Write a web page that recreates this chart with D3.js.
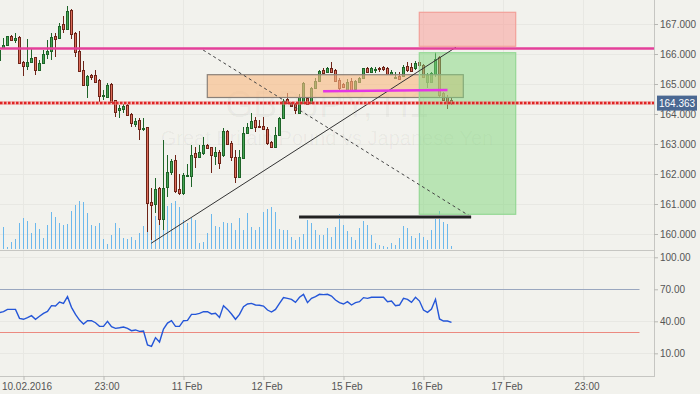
<!DOCTYPE html>
<html>
<head>
<meta charset="utf-8">
<script src="https://cdn.jsdelivr.net/npm/d3@7"></script>
<style>
  body { margin: 0; background: #f2f2ed; }
  svg { display: block; font-family: "Liberation Sans", Arial, sans-serif; }
</style>
</head>
<body>
<svg id="chart" width="700" height="394"></svg>
<script>
// GBPJPY H1 candles, first entry is the half-cut bar at the left edge
const open = [165.8,166.21,166.29,166.59,166.477,166.557,165.723,165.6,165.723,165.89,165.477,165.69,165.99,166.1,166.6,166.523,167.0,166.823,167.467,166.69,166.1,165.467,164.957,165.3,165.3,165.133,164.6,164.557,164.99,164.467,164.133,164.157,164.3,163.99,163.667,163.8,163.49,163.557,161.077,161.0,161.533,160.49,161.557,162.077,162.467,161.49,161.357,161.933,161.943,162.69,162.577,162.69,162.967,162.91,162.61,162.743,162.633,163.443,163.023,162.577,161.91,162.543,163.357,163.543,163.79,163.6,163.59,163.49,163.067,162.91,163.29,163.857,164.49,164.357,164.323,164.023,164.357,164.543,164.357,164.857,165.1,165.467,165.41,165.523,165.467,165.133,164.99,164.8,165.1,164.823,165.057,165.19,165.523,165.41,165.477,165.543,165.567,165.543,165.323,165.21,165.277,165.277,165.61,165.577,165.523,165.743,165.633,165.077,165.077,165.333,165.89,164.69,164.557,164.467];
const high = [166.2,166.533,166.6,166.633,166.7,166.6,165.767,166.5,166.167,165.91,165.8,166.133,166.467,166.69,166.69,167.023,167.267,167.6,167.49,166.733,166.757,165.767,165.3,165.343,165.467,165.157,164.8,165.033,165.023,164.467,164.3,164.333,164.317,164.023,163.857,163.857,163.857,163.577,161.533,161.867,161.577,163.133,162.633,162.5,162.633,161.99,162.023,162.333,162.967,162.91,162.967,163.243,163.0,162.91,162.91,162.8,163.523,163.467,163.11,162.8,162.8,163.577,163.71,164.023,163.91,163.8,163.91,163.577,163.11,163.577,163.89,164.49,164.69,164.41,164.357,164.657,165.057,164.577,164.9,165.19,165.467,165.523,165.577,165.743,165.5,165.19,165.023,165.167,165.19,165.123,165.243,165.543,165.577,165.577,165.577,165.577,165.6,165.577,165.467,165.39,165.41,165.633,165.723,165.69,165.767,165.8,165.657,165.357,165.41,166.077,165.933,164.723,164.633,164.523];
const low = [165.733,166.167,166.283,166.457,166.367,165.667,165.277,165.467,165.7,165.31,165.467,165.667,165.833,165.8,165.91,166.5,166.69,166.8,166.49,165.89,165.41,164.933,164.523,165.133,165.067,164.41,164.467,164.523,164.367,163.91,163.857,164.023,163.933,163.577,163.577,163.133,163.433,160.077,159.8,160.7,160.3,160.133,161.243,161.967,161.357,161.3,161.3,161.91,161.577,162.19,162.523,162.633,162.823,162.023,162.3,162.157,162.577,162.967,162.433,161.69,161.89,162.523,163.333,163.523,163.41,163.523,163.467,162.967,162.89,162.857,163.277,163.833,164.333,164.243,163.99,163.99,164.333,164.323,164.333,164.833,165.077,165.323,165.39,165.357,165.057,164.767,164.857,164.777,164.767,164.8,165.023,165.167,165.367,165.377,165.357,165.41,165.443,165.3,165.3,165.19,165.167,165.243,165.41,165.41,165.467,165.577,165.19,164.857,165.023,165.243,164.577,164.443,164.157,164.3];
const close = [166.133,166.3,166.59,166.477,166.523,165.69,165.6,165.723,165.857,165.477,165.69,166.0,166.1,166.557,166.51,166.933,166.823,167.433,166.657,166.057,165.423,164.957,165.267,165.243,165.077,164.61,164.633,164.967,164.41,164.077,164.19,164.267,163.967,163.69,163.767,163.49,163.523,161.023,160.967,161.49,160.49,161.533,162.077,162.433,161.443,161.377,161.967,161.967,162.633,162.577,162.743,162.967,162.857,162.633,162.723,162.357,163.433,162.99,162.557,161.91,162.557,163.357,163.557,163.777,163.557,163.557,163.49,163.023,162.91,163.29,163.857,164.443,164.357,164.283,164.133,164.577,165.023,164.343,164.857,165.1,165.433,165.357,165.523,165.39,165.1,164.857,164.91,165.077,164.8,165.1,165.19,165.523,165.39,165.523,165.5,165.5,165.5,165.323,165.41,165.243,165.167,165.577,165.467,165.433,165.69,165.633,165.243,165.3,165.357,165.823,164.633,164.467,164.443,164.363];
const volume = [200,220,23,70,103,260,310,283,163,260,203,113,240,373,320,260,240,250,383,440,483,470,363,240,230,260,103,53,140,257,207,107,97,117,90,157,230,290,90,330,407,440,430,457,480,417,290,263,307,290,63,73,163,350,230,223,273,263,257,190,307,190,357,223,190,223,373,400,417,370,197,190,190,123,90,120,147,290,263,190,140,140,207,123,223,347,240,180,123,90,207,280,240,140,57,40,30,20,63,40,107,230,207,130,107,163,123,90,190,307,380,273,250,30];
const rsi = [48.1,49.0,51.2,51.2,51.2,42.8,41.9,43.4,45.3,41.9,44.7,47.5,49.3,54.7,54.3,58.1,56.8,63.1,53.1,46.5,41.2,37.5,40.6,40.6,38.7,35.3,35.3,40.0,35.0,33.4,34.0,34.7,33.4,31.2,31.9,30.6,30.9,17.8,16.5,24.7,20.6,32.8,38.4,40.6,35.3,35.3,40.6,40.9,46.5,46.5,47.5,49.0,49.0,46.9,47.5,43.7,54.7,51.2,46.9,41.9,46.5,53.7,56.2,56.8,55.3,55.0,54.3,50.6,48.7,51.2,56.8,62.2,61.5,60.6,57.8,62.5,65.3,57.5,61.5,63.1,65.3,65.0,65.3,63.7,60.0,57.5,56.2,58.4,55.3,57.5,58.4,62.2,61.5,62.5,62.5,62.5,62.5,58.4,59.0,54.7,55.3,61.5,60.6,57.8,62.5,59.0,50.6,48.4,51.5,60.6,42.2,40.3,40.3,39.0];

// time axis (bar index -> label)
const timeTickIdx = [6, 26, 46, 66, 86, 106, 126, 146];
const timeTickLabels = ["10.02.2016", "23:00", "11 Feb", "12 Feb", "15 Feb", "16 Feb", "17 Feb", "23:00"];
const priceTicks = [160, 161, 162, 163, 164, 165, 166, 167];
const rsiTicks = [10, 40, 70, 100];
const rsiLevels = [70, 30];

// drawing objects, in (bar index, price)
const lastPrice = 164.363;
const resistance = 166.183;
const zoneBox = [51.95, 115.95, 165.31, 164.55];
const stopBox = [104.95, 129.05, 167.39, 166.257];
const targetBox = [104.95, 129.05, 166.043, 160.657];
const trendUp = [[37.9, 159.69], [114.1, 166.223]];
const trendDown = [[50.9, 166.133], [117.8, 160.577]];
const supportSeg = [[74.9, 160.567], [117.9, 160.567]];
const midSeg = [[80.9, 164.757], [112, 164.8]];

const W = 700, H = 394, plotR = 654;
const svg = d3.select("#chart");
svg.append("rect").attr("width", W).attr("height", H).attr("fill", "#f2f2ed");

const x = d3.scaleLinear().domain([0.125, 163.625]).range([0, plotR]);
const yP = d3.scaleLinear().domain([160, 167]).range([234, 24]);
const yV = d3.scaleLinear().domain([0, 1000]).range([249, 149]);
const yR = d3.scaleLinear().domain([0, 100]).range([364, 257.3]);

svg.append("clipPath").attr("id", "pclip")
  .append("rect").attr("x", 0).attr("y", 0).attr("width", plotR).attr("height", 250);
svg.append("clipPath").attr("id", "rclip")
  .append("rect").attr("x", 0).attr("y", 251).attr("width", plotR).attr("height", 125);

// grid
const grid = svg.append("g").attr("stroke", "#e8e8e3").attr("shape-rendering", "crispEdges");
grid.selectAll(".gv").data(timeTickIdx).join("line")
  .attr("x1", d => x(d)).attr("x2", d => x(d)).attr("y1", 0).attr("y2", 376);
grid.selectAll(".gh").data(priceTicks).join("line")
  .attr("x1", 0).attr("x2", plotR).attr("y1", d => Math.round(yP(d)) + 0.5).attr("y2", d => Math.round(yP(d)) + 0.5);
grid.selectAll(".gr").data([100, 10, 40]).join("line")
  .attr("x1", 0).attr("x2", plotR).attr("y1", d => Math.round(yR(d)) + 0.5).attr("y2", d => Math.round(yR(d)) + 0.5);

const pane = svg.append("g").attr("clip-path", "url(#pclip)");

// watermark
pane.append("text").attr("x", 327).attr("y", 117).attr("text-anchor", "middle")
  .attr("font-size", 36).attr("fill", "#000").attr("fill-opacity", 0.045).text("GBPJPY, H1");
pane.append("text").attr("x", 327).attr("y", 145).attr("text-anchor", "middle")
  .attr("font-size", 20).attr("fill", "#000").attr("fill-opacity", 0.045).text("Great Britain Pound vs Japanese Yen");

// volume
pane.append("g").selectAll("rect").data(volume).join("rect")
  .attr("x", (d, i) => x(i) - 0.5).attr("width", 1)
  .attr("y", d => Math.round(yV(d))).attr("height", d => Math.round(yV(0)) - Math.round(yV(d)))
  .attr("fill", "#6cb8ec");

// candles
const candles = open.map((o, i) => ({ i, o, h: high[i], l: low[i], c: close[i], up: close[i] >= o }));
const cg = pane.append("g").attr("shape-rendering", "crispEdges");
cg.selectAll("line").data(candles).join("line")
  .attr("x1", d => x(d.i)).attr("x2", d => x(d.i))
  .attr("y1", d => Math.round(yP(d.h))).attr("y2", d => Math.round(yP(d.l)))
  .attr("stroke", d => d.up ? "#1e6428" : "#6e2418");
cg.selectAll("rect").data(candles).join("rect")
  .attr("x", d => x(d.i) - 1)
  .attr("y", d => Math.round(yP(Math.max(d.o, d.c))) + 0.5)
  .attr("width", 2)
  .attr("height", d => Math.max(1, Math.round(yP(Math.min(d.o, d.c))) - Math.round(yP(Math.max(d.o, d.c)))))
  .attr("fill", d => d.up ? "#45a453" : "#dc6c5a")
  .attr("stroke", d => d.up ? "#1e6428" : "#6e2418");

// boxes
function box(b, fill, op, stroke) {
  pane.append("rect")
    .attr("x", x(b[0])).attr("y", yP(b[2]))
    .attr("width", x(b[1]) - x(b[0])).attr("height", yP(b[3]) - yP(b[2]))
    .attr("fill", fill).attr("fill-opacity", op)
    .attr("stroke", stroke).attr("stroke-width", 1.2);
}
box(zoneBox, "rgb(249,185,131)", 0.62, "#8a8078");
box(stopBox, "rgb(250,150,145)", 0.5, "#f2a09a");
box(targetBox, "rgb(128,214,123)", 0.5, "#95d895");

// lines
const seg = (pts) => d3.line().x(d => x(d[0])).y(d => yP(d[1]))(pts);
pane.append("path").attr("d", seg(trendUp)).attr("stroke", "#333").attr("stroke-width", 1).attr("fill", "none");
pane.append("path").attr("d", seg(trendDown)).attr("stroke", "#444").attr("stroke-width", 1)
  .attr("stroke-dasharray", "3,3").attr("fill", "none");
pane.append("path").attr("d", seg(supportSeg)).attr("stroke", "#8a8a8a").attr("stroke-width", 4).attr("fill", "none");
pane.append("path").attr("d", seg(supportSeg)).attr("stroke", "#222").attr("stroke-width", 2).attr("fill", "none");
pane.append("path").attr("d", seg(midSeg)).attr("stroke", "#e436e4").attr("stroke-width", 2.5).attr("fill", "none");

pane.append("line").attr("x1", 0).attr("x2", plotR).attr("y1", yP(resistance)).attr("y2", yP(resistance))
  .attr("stroke", "#e4409a").attr("stroke-width", 2.5);
pane.append("line").attr("x1", 0).attr("x2", plotR).attr("y1", yP(lastPrice)).attr("y2", yP(lastPrice))
  .attr("stroke", "#f08080").attr("stroke-opacity", 0.45).attr("stroke-width", 4);
pane.append("line").attr("x1", 0).attr("x2", plotR).attr("y1", yP(lastPrice)).attr("y2", yP(lastPrice))
  .attr("stroke", "#e02424").attr("stroke-width", 2.5).attr("stroke-dasharray", "2.5,1.5");

// RSI pane
const rp = svg.append("g").attr("clip-path", "url(#rclip)");
rp.selectAll(".lvl").data(rsiLevels).join("line")
  .attr("x1", 0).attr("x2", x(160))
  .attr("y1", d => Math.round(yR(d)) + 0.5).attr("y2", d => Math.round(yR(d)) + 0.5)
  .attr("stroke", d => d > 50 ? "#9aa7bf" : "#ec8a80");
rp.append("path").datum(rsi)
  .attr("d", d3.line().x((d, i) => x(i)).y(d => yR(d)))
  .attr("fill", "none").attr("stroke", "#2456d8").attr("stroke-width", 1.4);

// frame
const frame = svg.append("g").attr("stroke", "#c6c6c2").attr("shape-rendering", "crispEdges");
frame.append("line").attr("x1", 0).attr("x2", plotR).attr("y1", 250.5).attr("y2", 250.5);
frame.append("line").attr("x1", 0).attr("x2", plotR).attr("y1", 376.5).attr("y2", 376.5);
frame.append("line").attr("x1", plotR + 0.5).attr("x2", plotR + 0.5).attr("y1", 0).attr("y2", 377);

// axes
function styleAxis(g) {
  g.select(".domain").remove();
  g.selectAll(".tick line").attr("stroke", "#b8b8b4");
  g.selectAll("text").attr("fill", "#555").attr("font-size", 10)
    .attr("font-family", "'Liberation Sans', Arial, sans-serif");
}
svg.append("g").attr("transform", `translate(${plotR},0)`)
  .call(d3.axisRight(yP).tickValues(priceTicks).tickFormat(d3.format(".3f")).tickSize(4).tickPadding(2))
  .call(styleAxis);
svg.append("g").attr("transform", `translate(${plotR},0)`)
  .call(d3.axisRight(yR).tickValues(rsiTicks).tickFormat(d3.format(".2f")).tickSize(4).tickPadding(2))
  .call(styleAxis);
svg.append("g").attr("transform", "translate(0,376)")
  .call(d3.axisBottom(x).tickValues(timeTickIdx).tickFormat((d, i) => timeTickLabels[i]).tickSize(4).tickPadding(3))
  .call(styleAxis)
  .selectAll("text").attr("dx", 3);

// last price label
svg.append("rect").attr("x", 657).attr("y", yP(lastPrice) - 7.5).attr("width", 40).attr("height", 15).attr("fill", "#4a6892");
svg.append("text").attr("x", 659).attr("y", yP(lastPrice)).attr("dy", "0.35em")
  .attr("fill", "#fff").attr("font-size", 10).text(d3.format(".3f")(lastPrice));
</script>
</body>
</html>
